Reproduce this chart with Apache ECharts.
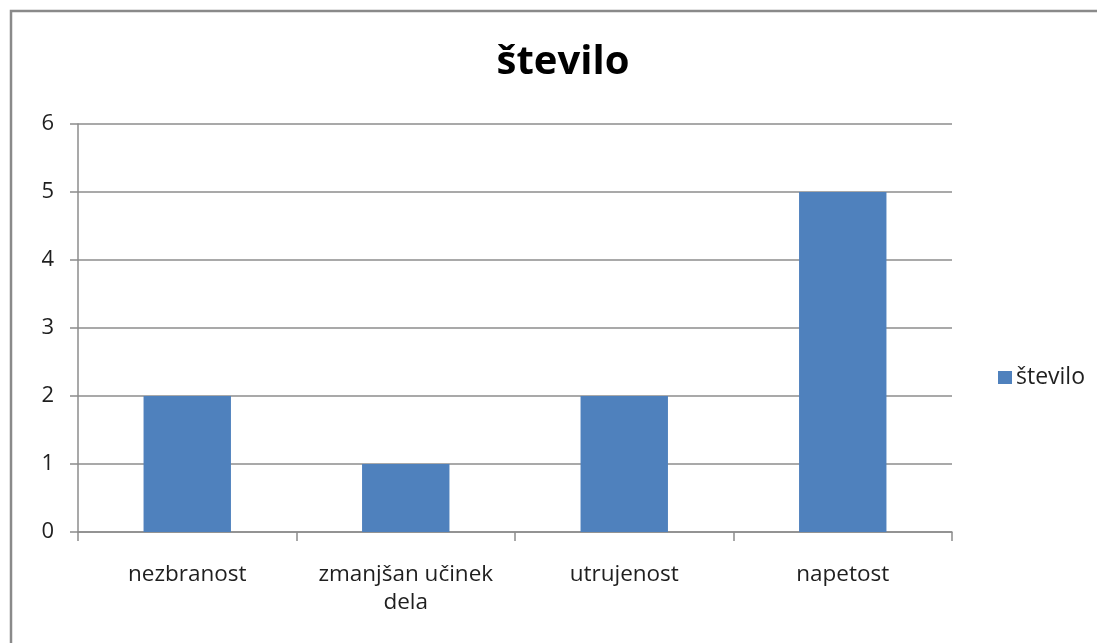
<!DOCTYPE html>
<html>
<head>
<meta charset="utf-8">
<script src="https://cdn.jsdelivr.net/npm/echarts@6/dist/echarts.min.js"></script>
<style>
  html, body { margin: 0; padding: 0; background: #fff; }
  #chart { width: 1097px; height: 643px; }
</style>
</head>
<body>
<div id="chart"></div>
<script>
// Chart data
const categories = ['nezbranost', 'zmanjšan učinek\ndela', 'utrujenost', 'napetost'];
const seriesName = 'število';
const values = [2, 1, 2, 5];
const yTicks = { min: 0, max: 6, interval: 1 };

const fontFamily = '"Open Sans", "Noto Sans", sans-serif';
const lineGray = '#8c8c8c';
const textColor = '#1f1f1f';

const chart = echarts.init(document.getElementById('chart'), null, { renderer: 'canvas' });

chart.setOption({
  backgroundColor: '#ffffff',
  animation: false,
  title: {
    text: seriesName,
    left: 558,
    top: 38,
    textAlign: 'center',
    textStyle: { fontFamily, fontSize: 40, fontWeight: 'bold', color: '#000' }
  },
  legend: {
    data: [seriesName],
    left: 993,
    top: 361,
    itemWidth: 14,
    itemHeight: 13,
    itemGap: 10,
    icon: 'rect',
    textStyle: { fontFamily, fontSize: 23, color: textColor, padding: [0, 0, 0, -1] }
  },
  grid: { left: 78, right: 145, top: 124, bottom: 111, containLabel: false },
  xAxis: {
    type: 'category',
    data: categories,
    boundaryGap: true,
    axisLine: { lineStyle: { color: lineGray, width: 1.5 } },
    axisTick: { show: true, length: 9, inside: false, alignWithLabel: false, lineStyle: { color: lineGray, width: 1.5 } },
    axisLabel: { fontFamily, fontSize: 22.5, color: textColor, margin: 29, lineHeight: 28, interval: 0 },
    splitLine: { show: false }
  },
  yAxis: {
    type: 'value',
    min: yTicks.min,
    max: yTicks.max,
    interval: yTicks.interval,
    axisLine: { show: true, lineStyle: { color: lineGray, width: 1.5 } },
    axisTick: { show: true, length: 8, lineStyle: { color: lineGray, width: 1.5 } },
    axisLabel: { fontFamily, fontSize: 22, color: textColor, margin: 24 },
    splitLine: { show: true, lineStyle: { color: lineGray, width: 1.5 } }
  },
  series: [{
    name: seriesName,
    type: 'bar',
    data: values,
    barWidth: '40%',
    itemStyle: { color: '#4f81bd' }
  }],
  graphic: [{
    type: 'rect',
    shape: { x: 11, y: 11, width: 1200, height: 800 },
    style: { fill: 'none', stroke: '#8a8a8a', lineWidth: 2.5 },
    silent: true
  }]
});
</script>
</body>
</html>
